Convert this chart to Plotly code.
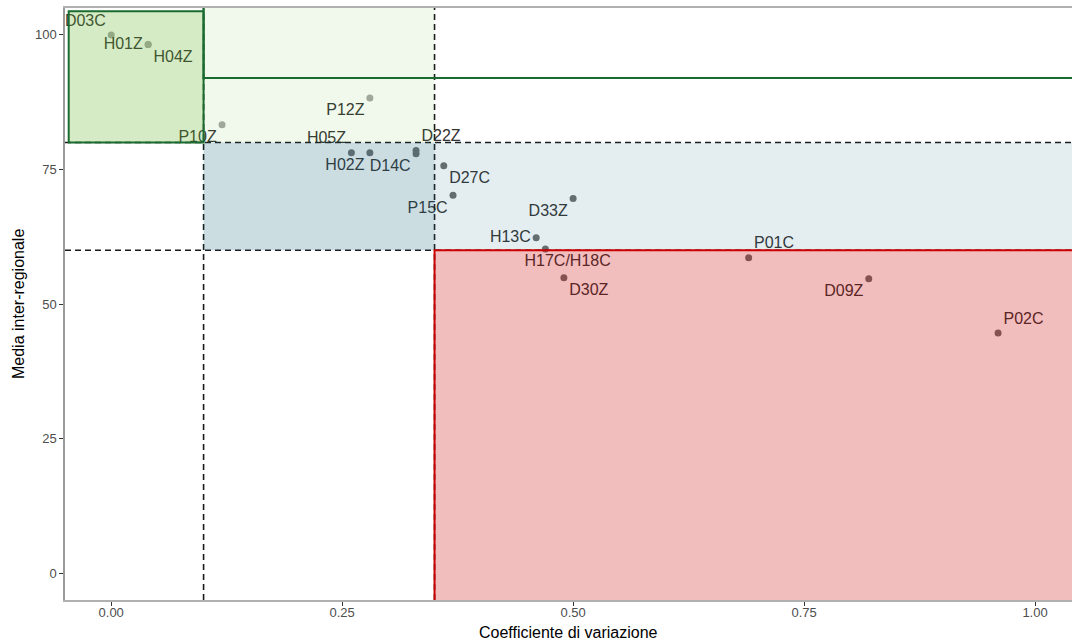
import plotly.graph_objects as go

# ---- data ----
labels = ["D03C", "H01Z", "H04Z", "P10Z", "P12Z", "H05Z", "H02Z", "D14C", "D22Z",
          "D27C", "P15C", "D33Z", "H13C", "H17C/H18C", "D30Z", "P01C", "D09Z", "P02C"]
cv = [0.00, 0.04, 0.04, 0.12, 0.28, 0.26, 0.28, 0.33, 0.33,
      0.36, 0.37, 0.50, 0.46, 0.47, 0.49, 0.69, 0.82, 0.96]
media = [100.0, 98.2, 98.2, 83.3, 88.3, 78.1, 78.1, 77.9, 78.5,
         75.7, 70.2, 69.6, 62.3, 60.2, 54.9, 58.6, 54.7, 44.6]
text_pos = ["top left", "middle left", "bottom right", "bottom left", "bottom left",
            "top left", "bottom left", "bottom left", "top right",
            "bottom right", "bottom left", "bottom left", "middle left", "bottom center",
            "bottom right", "top right", "bottom left", "top right"]
# leading non-breaking spaces nudge a centred label to the right (layout only)
text_pad = [0, 0, 0, 0, 0, 0, 0, 0, 0, 0, 0, 0, 0, 10, 0, 0, 0, 0]

cv_thresholds = [0.10, 0.35]
media_thresholds = [60, 80]
x_ticks = [0.0, 0.25, 0.5, 0.75, 1.0]
x_ticktext = ["0.00", "0.25", "0.50", "0.75", "1.00"]
y_ticks = [0, 25, 50, 75, 100]

XR = [-0.05, 1.04]
YR = [-5, 105]

FONT = "Liberation Sans, Arial, sans-serif"

fig = go.Figure()

point_colors = ["#a6a6a6" if m >= 80 else "#6e6e6e" for m in media]
shown_text = ["\u00a0" * p + t for p, t in zip(text_pad, labels)]

fig.add_trace(go.Scatter(
    x=cv, y=media, mode="markers+text", text=shown_text, textposition=text_pos,
    marker=dict(size=7, color=point_colors),
    textfont=dict(family=FONT, size=16, color="#333333"),
    showlegend=False, cliponaxis=False, hoverinfo="skip",
))

shapes = []
# dashed threshold lines
for xv in cv_thresholds:
    shapes.append(dict(type="line", xref="x", yref="paper", x0=xv, x1=xv, y0=0, y1=1,
                       line=dict(color="#1a1a1a", width=1.6, dash="6px,4px"), layer="above"))
for yv in media_thresholds:
    shapes.append(dict(type="line", xref="paper", yref="y", x0=0, x1=1, y0=yv, y1=yv,
                       line=dict(color="#1a1a1a", width=1.6, dash="6px,4px"), layer="above"))

# light green column
shapes.append(dict(type="rect", xref="x", yref="y", x0=cv_thresholds[0], x1=cv_thresholds[1],
                   y0=media_thresholds[1], y1=YR[1] + 5, fillcolor="rgba(100,180,40,0.09)",
                   line=dict(width=0), layer="above"))
# blue band (two layers overlap in the left part)
shapes.append(dict(type="rect", xref="x", yref="y", x0=cv_thresholds[0], x1=XR[1] + 0.1,
                   y0=media_thresholds[0], y1=media_thresholds[1], fillcolor="rgba(30,110,130,0.12)",
                   line=dict(width=0), layer="above"))
shapes.append(dict(type="rect", xref="x", yref="y", x0=cv_thresholds[0], x1=cv_thresholds[1],
                   y0=media_thresholds[0], y1=media_thresholds[1], fillcolor="rgba(30,110,130,0.12)",
                   line=dict(width=0), layer="above"))
# dark green box
shapes.append(dict(type="rect", xref="x", yref="y", x0=-0.046, x1=cv_thresholds[0],
                   y0=media_thresholds[1], y1=104.4, fillcolor="rgba(100,180,40,0.27)",
                   line=dict(color="#1a6b30", width=2), layer="above"))
# green outline above 92
shapes.append(dict(type="rect", xref="x", yref="y", x0=cv_thresholds[0], x1=XR[1] + 0.1,
                   y0=92, y1=YR[1] + 5, fillcolor="rgba(0,0,0,0)",
                   line=dict(color="#1a6b30", width=2), layer="above"))
# red box
shapes.append(dict(type="rect", xref="x", yref="y", x0=cv_thresholds[1], x1=XR[1] + 0.1,
                   y0=YR[0] - 5, y1=media_thresholds[0], fillcolor="rgba(205,0,0,0.26)",
                   line=dict(color="#cc0000", width=2), layer="above"))

fig.update_layout(
    width=1072, height=641,
    margin=dict(l=65, r=0, t=8, b=41),
    paper_bgcolor="white", plot_bgcolor="white",
    shapes=shapes,
    font=dict(family=FONT, color="#000000"),
    xaxis=dict(range=XR, tickvals=x_ticks, ticktext=x_ticktext, showgrid=False, zeroline=False,
               showline=True, linecolor="#b0b0b0", linewidth=2, mirror=True,
               ticks="outside", ticklen=4, tickcolor="#333333", tickwidth=1,
               ticklabelstandoff=-5,
               tickfont=dict(size=13, color="#4d4d4d")),
    yaxis=dict(range=YR, tickvals=y_ticks, showgrid=False, zeroline=False,
               showline=True, linecolor="#9a9a9a", linewidth=1.5, mirror=False,
               ticks="outside", ticklen=4, tickcolor="#333333", tickwidth=1,
               tickfont=dict(size=13, color="#4d4d4d")),
    annotations=[
        dict(text="Coefficiente di variazione", xref="paper", yref="paper", x=0.5, y=0,
             xanchor="center", yanchor="middle", yshift=-32, showarrow=False,
             font=dict(family=FONT, size=16, color="#000000")),
        dict(text="Media inter-regionale", xref="paper", yref="paper", x=0, y=0.5,
             xanchor="center", yanchor="middle", xshift=-47, textangle=-90, showarrow=False,
             font=dict(family=FONT, size=16, color="#000000")),
    ],
)

# remove the default page margin / scrollbars so the figure fills the window exactly
page_css = "document.body.style.margin='0px';document.body.style.overflow='hidden';"
fig.write_html("out.html", post_script=page_css, config={"displayModeBar": False})
